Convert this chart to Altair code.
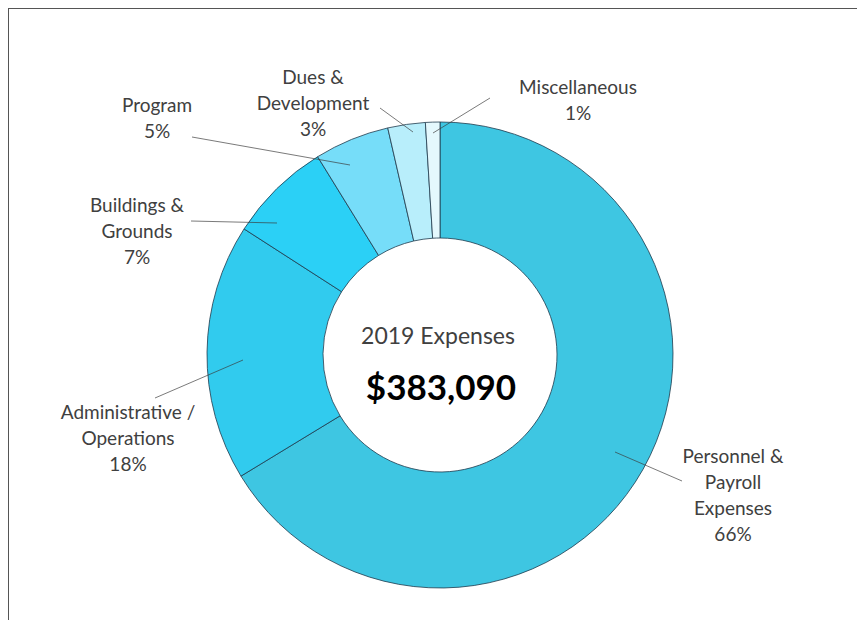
import altair as alt
import pandas as pd

# ---- data ----
categories = ["Personnel & Payroll Expenses", "Administrative / Operations",
              "Buildings & Grounds", "Program", "Dues & Development", "Miscellaneous"]
label_text = ["Personnel &\nPayroll\nExpenses\n66%", "Administrative /\nOperations\n18%",
              "Buildings &\nGrounds\n7%", "Program\n5%", "Dues &\nDevelopment\n3%",
              "Miscellaneous\n1%"]
shares = [66.3, 17.8, 7.1, 5.2, 2.6, 1.0]
colors = ["#3EC6E2", "#31CBEE", "#2BD0F6", "#76DDF9", "#B8EEFB", "#E4F8FD"]
center_title = "2019 Expenses"
center_total = "$383,090"

# ---- layout (image pixel coordinates: centre x, first text line y) ----
label_pos = [(733, 457), (128, 413), (137, 206), (157, 106), (313, 78), (578, 88)]
leader = [((615, 452), (682, 481)), ((243, 360), (155, 398)), ((277, 223), (191, 221)),
          ((350, 165), (192, 137)), ((413, 132), (380, 108)), ((433, 133), (490, 98))]
CX, CY, R_OUT, R_IN = 440, 355, 233, 117
M = 8  # page margin
W, H = 865 - 2 * M, 628 - 2 * M

df = pd.DataFrame({"cat": categories, "share": shares, "order": range(len(categories))})
lab = pd.DataFrame({"txt": label_text,
                    "x": [p[0] - M for p in label_pos],
                    "y": [p[1] - M for p in label_pos]})
lines = pd.DataFrame({"x": [a[0] - M for a, b in leader], "y": [a[1] - M for a, b in leader],
                      "x2": [b[0] - M for a, b in leader], "y2": [b[1] - M for a, b in leader]})
frame = pd.DataFrame({"x": [0, 0], "y": [0, 0], "x2": [W, 0], "y2": [0, H]})
center = pd.DataFrame({"t": [center_title]})

xs = alt.Scale(domain=[0, W], range=[0, W])
ys = alt.Scale(domain=[0, H], range=[0, H])

arcs = alt.Chart(df).mark_arc(
    outerRadius=R_OUT, innerRadius=R_IN, stroke="#1E3A4C", strokeWidth=0.8
).encode(
    theta=alt.Theta("share:Q", stack=True),
    order=alt.Order("order:Q"),
    color=alt.Color("cat:N", scale=alt.Scale(domain=categories, range=colors), legend=None),
    x=alt.value(CX - M), y=alt.value(CY - M),
)

leaders = alt.Chart(lines).mark_rule(color="#3A3A3A", strokeWidth=0.8, opacity=0.85).encode(
    x=alt.X("x:Q", scale=xs, axis=None), y=alt.Y("y:Q", scale=ys, axis=None),
    x2="x2:Q", y2="y2:Q")

labels = alt.Chart(lab).mark_text(
    font="Lato", fontSize=19, color="#404040", lineBreak="\n", lineHeight=26,
    align="center", baseline="middle"
).encode(x=alt.X("x:Q", scale=xs, axis=None), y=alt.Y("y:Q", scale=ys, axis=None), text="txt:N")

frames = alt.Chart(frame).mark_rule(color="#555555", strokeWidth=2).encode(
    x=alt.X("x:Q", scale=xs, axis=None), y=alt.Y("y:Q", scale=ys, axis=None),
    x2="x2:Q", y2="y2:Q")

title_txt = alt.Chart(center).mark_text(
    font="Lato", fontSize=23, color="#404040", align="center", baseline="middle"
).encode(x=alt.value(CX - M - 2), y=alt.value(337 - M), text="t:N")

total_txt = alt.Chart(pd.DataFrame({"t": [center_total]})).mark_text(
    font="Lato", fontSize=35, fontWeight="bold", color="#000000", align="center", baseline="middle"
).encode(x=alt.value(CX - M + 1), y=alt.value(389 - M), text="t:N")

chart = alt.layer(arcs, leaders, labels, frames, title_txt, total_txt).properties(
    width=W, height=H, autosize=alt.AutoSizeParams(type="none"), padding=0
).configure_view(stroke=None).configure(background="white")

chart.save("out.html", embed_options={"renderer": "svg", "actions": False})
